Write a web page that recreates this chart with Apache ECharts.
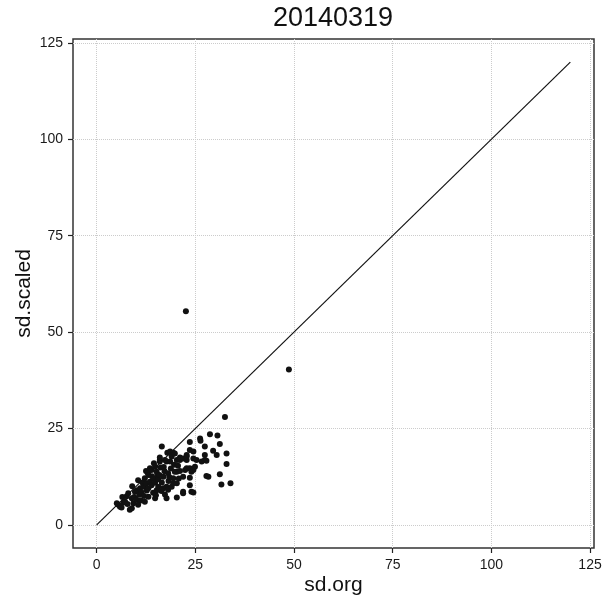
<!DOCTYPE html>
<html lang="en">
<head>
    <meta http-equiv="Content-Type" content="text/html" charset="UTF-8">
    <script type="text/javascript" src="https://cdn.jsdelivr.net/npm/echarts@6/dist/echarts.min.js"></script>
    <style>
        html, body { margin: 0; padding: 0; background: #fff; }
    </style>
</head>
<body>
<div style="width: 607px;height: 595px" id="chart"></div>
<script type="text/javascript">
    // sd.org / sd.scaled pairs
    var sdOrg = [5.1, 5.5, 5.9, 6.3, 6.5, 6.8, 7.2, 7.6, 7.8, 8.0, 8.4, 8.9, 8.9, 9.0, 9.3, 9.5, 9.7, 10.1, 10.2, 10.5,
        10.5, 10.8, 11.0, 11.2, 11.4, 11.6, 11.8, 12.0, 12.2, 12.2, 12.5, 12.6, 12.7, 12.9, 13.1, 13.1, 13.1, 13.5, 13.5, 13.9,
        13.9, 14.0, 14.3, 14.4, 14.5, 14.8, 14.8, 14.8, 15.0, 15.2, 15.2, 15.4, 15.6, 15.6, 15.9, 16.0, 16.0, 16.0, 16.2, 16.4,
        16.5, 16.5, 16.9, 16.9, 17.0, 17.2, 17.3, 17.3, 17.7, 17.7, 17.7, 17.9, 18.1, 18.1, 18.2, 18.4, 18.6, 18.6, 18.8, 19.0,
        19.0, 19.4, 19.4, 19.4, 19.6, 19.8, 19.8, 20.3, 20.3, 20.3, 20.3, 20.6, 20.8, 21.1, 21.1, 21.1, 21.9, 21.9, 21.9, 21.9,
        22.4, 22.8, 22.8, 22.8, 22.8, 23.6, 23.6, 23.6, 23.6, 23.6, 24.0, 24.0, 24.5, 24.5, 24.5, 24.5, 24.9, 25.3, 26.2, 26.3,
        26.6, 27.4, 27.4, 27.4, 27.8, 27.8, 28.3, 28.7, 29.5, 30.4, 30.6, 31.2, 31.2, 31.6, 32.5, 32.9, 32.9, 33.9, 22.6, 48.7];
    var sdScaled = [5.6, 5.2, 4.7, 4.5, 7.2, 5.8, 6.0, 7.4, 5.4, 8.2, 3.9, 4.3, 6.9, 10.0, 5.6, 7.2, 8.6, 6.5, 9.0, 5.2,
        11.6, 7.8, 9.5, 6.3, 8.4, 11.0, 9.9, 7.5, 6.0, 12.1, 14.0, 10.8, 8.9, 13.5, 7.3, 9.5, 12.9, 11.2, 14.7, 10.3,
        14.2, 12.6, 8.3, 12.0, 16.0, 6.9, 15.1, 10.9, 7.7, 13.8, 9.0, 13.0, 9.9, 11.8, 12.9, 16.4, 16.8, 17.5, 14.9, 8.8,
        20.3, 11.0, 9.5, 12.5, 15.0, 13.9, 7.9, 16.8, 6.9, 9.9, 16.4, 18.7, 9.1, 13.4, 11.4, 12.4, 16.4, 19.0, 14.6, 9.9,
        17.7, 10.8, 12.1, 18.7, 15.6, 13.8, 18.5, 7.1, 10.8, 13.8, 16.8, 15.3, 12.0, 14.0, 16.8, 17.5, 8.2, 8.6, 12.5, 17.2,
        14.2, 14.7, 16.8, 17.7, 18.1, 10.3, 12.2, 14.7, 19.4, 21.5, 8.6, 13.8, 8.4, 14.2, 17.2, 19.0, 15.1, 16.8, 22.4, 21.8,
        16.4, 16.8, 18.1, 20.3, 12.7, 16.6, 12.5, 23.5, 19.2, 18.1, 23.2, 13.1, 21.0, 10.5, 28.0, 15.8, 18.5, 10.8, 55.4, 40.3];

    // reference line y = x
    var lineX = [0, 120];
    var lineY = [0, 120];

    var tickValues = [0, 25, 50, 75, 100, 125];

    var points = sdOrg.map(function (x, i) { return [x, sdScaled[i]]; });
    var linePts = lineX.map(function (x, i) { return [x, lineY[i]]; });

    var fontFam = '"Liberation Sans", Arial, sans-serif';

    function makeAxis(name, gap) {
        return {
            type: 'value',
            min: -6,
            max: 126,
            name: name,
            nameLocation: 'middle',
            nameGap: gap,
            nameMoveOverlap: false,
            nameTextStyle: { fontSize: 21, color: '#111', fontFamily: fontFam },
            axisLine: { show: false, onZero: false },
            axisTick: {
                show: true, length: 5, inside: false, customValues: tickValues,
                lineStyle: { color: '#222', width: 1.2 }
            },
            axisLabel: {
                customValues: tickValues, margin: 10, fontSize: 14, color: '#1a1a1a', fontFamily: fontFam
            },
            splitLine: {
                show: true,
                lineStyle: { color: '#cccccc', type: 'dotted', width: 1 }
            }
        };
    }

    var chart = echarts.init(document.getElementById('chart'), null, { renderer: 'canvas' });
    chart.setOption({
        animation: false,
        backgroundColor: '#fff',
        title: {
            text: '20140319',
            left: 333,
            top: 5,
            padding: 0,
            textAlign: 'center',
            textStyle: { fontSize: 27, fontWeight: 'normal', color: '#111', fontFamily: fontFam }
        },
        grid: {
            left: 73, right: 13, top: 39, bottom: 47,
            outerBoundsMode: 'none',
            containLabel: false,
            show: true, borderColor: '#333', borderWidth: 1.5, backgroundColor: 'transparent'
        },
        xAxis: makeAxis('sd.org', 27),
        yAxis: makeAxis('sd.scaled', 38),
        series: [
            {
                type: 'line',
                data: linePts,
                symbol: 'none',
                lineStyle: { color: '#111', width: 1.2 },
                z: 2
            },
            {
                type: 'scatter',
                data: points,
                symbol: 'circle',
                symbolSize: 6,
                itemStyle: { color: '#111', opacity: 1 },
                z: 3
            }
        ]
    });
</script>
</body>
</html>
